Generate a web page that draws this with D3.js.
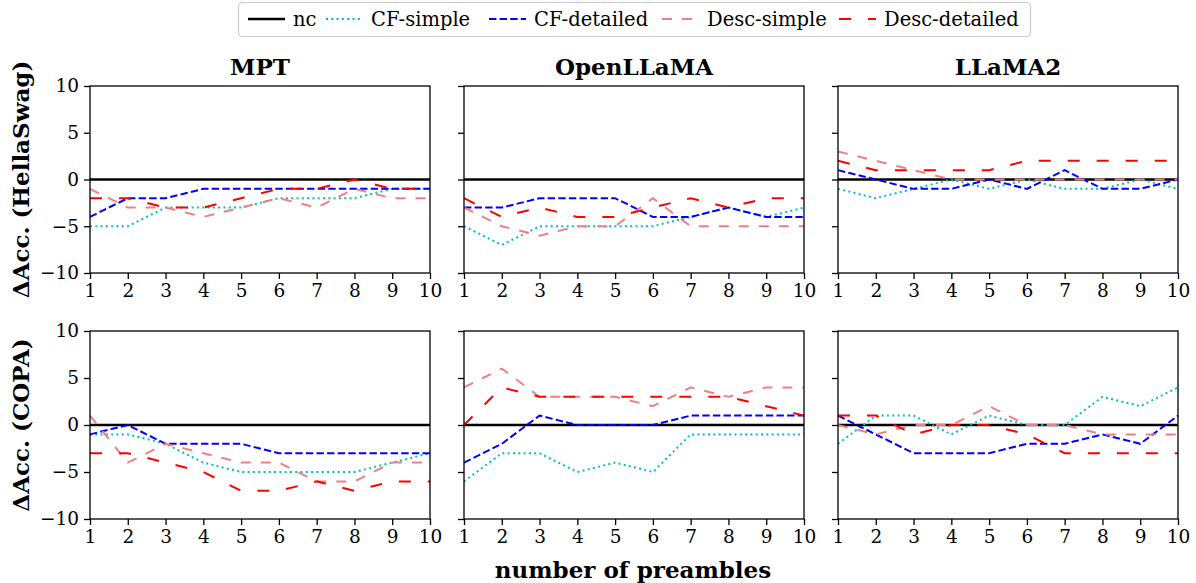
<!DOCTYPE html>
<html lang="en">
<head>
    <meta charset="UTF-8">
    <script src="https://d3js.org/d3.v7.min.js"></script>
    <style>
        body { margin: 0; background: #fff; }
        text { font-family: "DejaVu Serif", serif; fill: #000; }
    </style>
</head>
<body>
    <div id="chart"></div>
    <script>
        // data
        var preambles = [1, 2, 3, 4, 5, 6, 7, 8, 9, 10];
        var models = ["MPT", "OpenLLaMA", "LLaMA2"];
        var tasks = ["HellaSwag", "COPA"];
        var seriesNames = ["nc", "CF-simple", "CF-detailed", "Desc-simple", "Desc-detailed"];
        var yTicks = [-10, -5, 0, 5, 10];

        // HellaSwag row
        var mptHella = {
            "CF-simple":     [-5, -5, -3, -3, -3, -2, -2, -2, -1, -1],
            "CF-detailed":   [-4, -2, -2, -1, -1, -1, -1, -1, -1, -1],
            "Desc-simple":   [-1, -3, -3, -4, -3, -2, -3, -1, -2, -2],
            "Desc-detailed": [-2, -2, -3, -3, -2, -1, -1, 0, -1, -1]
        };
        var openHella = {
            "CF-simple":     [-5, -7, -5, -5, -5, -5, -4, -3, -4, -3],
            "CF-detailed":   [-3, -3, -2, -2, -2, -4, -4, -3, -4, -4],
            "Desc-simple":   [-3, -5, -6, -5, -5, -2, -5, -5, -5, -5],
            "Desc-detailed": [-2, -4, -3, -4, -4, -3, -2, -3, -2, -2]
        };
        var llamaHella = {
            "CF-simple":     [-1, -2, -1, 0, -1, 0, -1, -1, 0, -1],
            "CF-detailed":   [1, 0, -1, -1, 0, -1, 1, -1, -1, 0],
            "Desc-simple":   [3, 2, 1, 0, 0, 0, 0, 0, 0, 0],
            "Desc-detailed": [2, 1, 1, 1, 1, 2, 2, 2, 2, 2]
        };
        // COPA row
        var mptCopa = {
            "CF-simple":     [-1, -1, -2, -4, -5, -5, -5, -5, -4, -3],
            "CF-detailed":   [-1, 0, -2, -2, -2, -3, -3, -3, -3, -3],
            "Desc-simple":   [1, -4, -2, -3, -4, -4, -6, -6, -4, -4],
            "Desc-detailed": [-3, -3, -4, -5, -7, -7, -6, -7, -6, -6]
        };
        var openCopa = {
            "CF-simple":     [-6, -3, -3, -5, -4, -5, -1, -1, -1, -1],
            "CF-detailed":   [-4, -2, 1, 0, 0, 0, 1, 1, 1, 1],
            "Desc-simple":   [4, 6, 3, 3, 3, 2, 4, 3, 4, 4],
            "Desc-detailed": [0, 4, 3, 3, 3, 3, 3, 3, 2, 1]
        };
        var llamaCopa = {
            "CF-simple":     [-2, 1, 1, -1, 1, 0, 0, 3, 2, 4],
            "CF-detailed":   [1, -1, -3, -3, -3, -2, -2, -1, -2, 1],
            "Desc-simple":   [0, -1, 0, 0, 2, 0, 0, -1, -1, -1],
            "Desc-detailed": [1, 1, -1, 0, 0, -1, -3, -3, -3, -3]
        };
        var panels = [
            [mptHella, openHella, llamaHella],
            [mptCopa, openCopa, llamaCopa]
        ];

        var styles = {
            "nc":            { color: "#000000", dash: null, width: 2.6 },
            "CF-simple":     { color: "#00bfbf", dash: "2,3.3", width: 2 },
            "CF-detailed":   { color: "#0000ff", dash: "7.4,3.2", width: 2 },
            "Desc-simple":   { color: "#f08080", dash: "10,10", width: 2 },
            "Desc-detailed": { color: "#ff0000", dash: "12,17", width: 2 }
        };

        var width = 1196, height = 583;
        var colX = [[90, 430], [464, 804], [838, 1178]];
        var rowY = [[86, 273], [331, 519]];
        var serif = "'DejaVu Serif', serif";

        var svg = d3.select("#chart").append("svg")
            .attr("width", width)
            .attr("height", height);

        var x = d3.scaleLinear().domain([1, 10]);
        var y = d3.scaleLinear().domain([-10, 10]);

        panels.forEach(function (row, r) {
            row.forEach(function (data, c) {
                var xs = x.copy().range(colX[c]);
                var ys = y.copy().range([rowY[r][1], rowY[r][0]]);
                var g = svg.append("g");

                // zero reference line (nc)
                g.append("line")
                    .attr("x1", xs(1)).attr("x2", xs(10))
                    .attr("y1", ys(0)).attr("y2", ys(0))
                    .attr("stroke", styles.nc.color)
                    .attr("stroke-width", styles.nc.width);

                var line = d3.line()
                    .x(function (d, i) { return xs(preambles[i]); })
                    .y(function (d) { return ys(d); });

                seriesNames.slice(1).forEach(function (name) {
                    var s = styles[name];
                    g.append("path")
                        .datum(data[name])
                        .attr("d", line)
                        .attr("fill", "none")
                        .attr("stroke", s.color)
                        .attr("stroke-width", s.width)
                        .attr("stroke-dasharray", s.dash);
                });

                g.append("rect")
                    .attr("x", colX[c][0]).attr("y", rowY[r][0])
                    .attr("width", colX[c][1] - colX[c][0])
                    .attr("height", rowY[r][1] - rowY[r][0])
                    .attr("fill", "none")
                    .attr("stroke", "#000")
                    .attr("stroke-width", 1.3);

                var xAxis = d3.axisBottom(xs).tickValues(preambles)
                    .tickSize(6).tickPadding(5).tickFormat(d3.format("d"));
                var xg = g.append("g")
                    .attr("transform", "translate(0," + rowY[r][1] + ")")
                    .call(xAxis);

                var yAxis = d3.axisLeft(ys).tickValues(yTicks)
                    .tickSize(6).tickPadding(5)
                    .tickFormat(c === 0 ? function (d) { return d < 0 ? "\u2212" + Math.abs(d) : d; } : "");
                var yg = g.append("g")
                    .attr("transform", "translate(" + colX[c][0] + ",0)")
                    .call(yAxis);

                [xg, yg].forEach(function (ax) {
                    ax.attr("font-family", null).attr("font-size", null);
                    ax.select(".domain").remove();
                    ax.selectAll(".tick line").attr("stroke", "#000").attr("stroke-width", 1.3);
                    ax.selectAll(".tick text")
                        .style("font-family", serif)
                        .style("font-size", "18.5px")
                        .attr("fill", "#000");
                });

                if (r === 0) {
                    g.append("text")
                        .attr("x", (colX[c][0] + colX[c][1]) / 2)
                        .attr("y", 75)
                        .attr("text-anchor", "middle")
                        .style("font-family", serif)
                        .style("font-size", "23px")
                        .style("font-weight", "bold")
                        .text(models[c]);
                }
            });

            svg.append("text")
                .attr("transform", "translate(29," + ((rowY[r][0] + rowY[r][1]) / 2) + ") rotate(-90)")
                .attr("text-anchor", "middle")
                .style("font-family", serif)
                .style("font-size", "23px")
                .style("font-weight", "bold")
                .text("\u0394Acc. (" + tasks[r] + ")");
        });

        svg.append("text")
            .attr("x", 633).attr("y", 578)
            .attr("text-anchor", "middle")
            .style("font-family", serif)
            .style("font-size", "23px")
            .style("font-weight", "bold")
            .text("number of preambles");

        // legend
        var legend = svg.append("g");
        legend.append("rect")
            .attr("x", 238.5).attr("y", 2.5)
            .attr("width", 792).attr("height", 34)
            .attr("rx", 4)
            .attr("fill", "#fff")
            .attr("stroke", "#cccccc")
            .attr("stroke-width", 1.2);
        var legendTextX = [293, 371, 534, 707, 884];
        seriesNames.forEach(function (name, i) {
            var s = styles[name];
            legend.append("line")
                .attr("x1", legendTextX[i] - 45).attr("x2", legendTextX[i] - 8)
                .attr("y1", 19).attr("y2", 19)
                .attr("stroke", s.color)
                .attr("stroke-width", s.width)
                .attr("stroke-dasharray", s.dash);
            legend.append("text")
                .attr("x", legendTextX[i]).attr("y", 26)
                .style("font-family", serif)
                .style("font-size", "19.5px")
                .text(name);
        });
    </script>
</body>
</html>
